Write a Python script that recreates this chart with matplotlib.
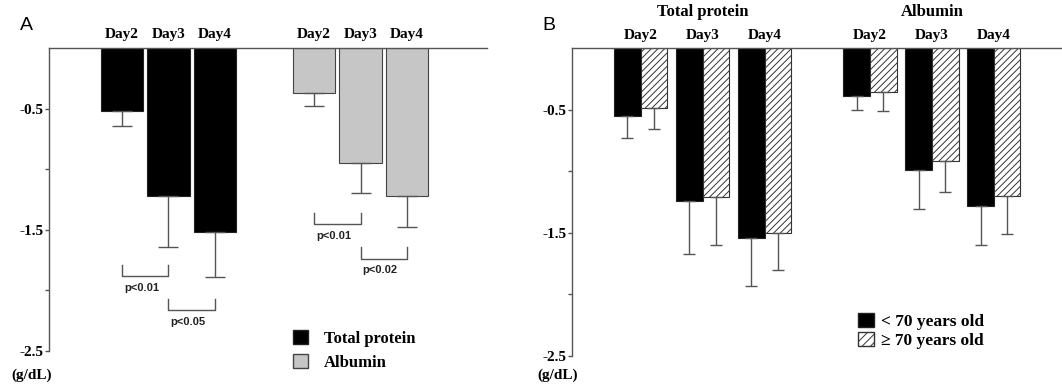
import matplotlib
matplotlib.use('Agg')
import matplotlib.pyplot as plt
import matplotlib.patches as mpatches
import numpy as np

plt.rcParams['hatch.linewidth'] = 0.7

days = ['Day2', 'Day3', 'Day4']

# Panel A: mean change (g/dL) and SD
tp_mean = [-0.52, -1.22, -1.52]
tp_sd = [0.12, 0.42, 0.37]
alb_mean = [-0.375, -0.95, -1.22]
alb_sd = [0.10, 0.25, 0.26]

# significance brackets (series, day from, day to, label)
brackets = [('tp', 0, 1, 'p<0.01'), ('tp', 1, 2, 'p<0.05'),
            ('alb', 0, 1, 'p<0.01'), ('alb', 1, 2, 'p<0.02')]
bracket_levels = [(-1.79, -1.88, -1.98), (-2.07, -2.16, -2.26),
                  (-1.36, -1.45, -1.55), (-1.64, -1.74, -1.83)]

# Panel B: by age group
groups = ['Total protein', 'Albumin']
young_mean = [[-0.55, -1.24, -1.54], [-0.39, -0.99, -1.28]]
young_sd = [[0.18, 0.43, 0.39], [0.11, 0.32, 0.32]]
old_mean = [[-0.49, -1.21, -1.50], [-0.36, -0.92, -1.20]]
old_sd = [[0.17, 0.39, 0.30], [0.15, 0.25, 0.31]]

serif = 'Liberation Serif'
sans = 'Liberation Sans'
axc = '#555555'
W, H = 1062, 387

fig = plt.figure(figsize=(10.62, 3.87), dpi=100)


def style_axis(ax):
    for s in ['right', 'bottom']:
        ax.spines[s].set_visible(False)
    for s in ['left', 'top']:
        ax.spines[s].set_color(axc)
        ax.spines[s].set_linewidth(1.0)
    ax.set_ylim(-2.5, 0)
    ax.set_xticks([])
    ax.set_yticks([-0.5, -1.0, -1.5, -2.0, -2.5])
    ax.set_yticklabels(['-0.5', '', '-1.5', '', '-2.5'],
                       fontfamily=serif, fontweight='bold', fontsize=11)
    ax.tick_params(axis='y', length=3, width=1, color=axc, pad=1)


# ---------- Panel A ----------
axA = fig.add_axes([49 / W, 1 - 351 / H, 438 / W, 303 / H])
style_axis(axA)
tp_x = np.arange(3)
alb_x = np.arange(3) + 4.13
w = 0.92
axA.set_xlim(-1.57, 7.85)

axA.bar(tp_x, tp_mean, w, color='black', edgecolor='#222222', linewidth=0.8)
axA.bar(alb_x, alb_mean, w, color='#c6c6c6', edgecolor='#444444', linewidth=0.8)
axA.errorbar(tp_x, tp_mean, yerr=[tp_sd, [0] * 3], fmt='none', ecolor=axc,
             elinewidth=1, capsize=7, capthick=1)
axA.errorbar(alb_x, alb_mean, yerr=[alb_sd, [0] * 3], fmt='none', ecolor=axc,
             elinewidth=1, capsize=7, capthick=1)

for xs in (tp_x, alb_x):
    for k, d in enumerate(days):
        axA.text(xs[k], 0.115, d, ha='center', va='center', fontfamily=serif,
                 fontweight='bold', fontsize=11, clip_on=False)

for (series, i, j, lab), (top, bot, ty) in zip(brackets, bracket_levels):
    xs = tp_x if series == 'tp' else alb_x
    axA.plot([xs[i], xs[i], xs[j], xs[j]], [top, bot, bot, top], color=axc, lw=1)
    axA.text((xs[i] + xs[j]) / 2 - 0.08, ty, lab, ha='center', va='center',
             fontfamily=sans, fontweight='bold', fontsize=8, color='#222222')

handlesA = [mpatches.Patch(facecolor='black', edgecolor='#222222', label='Total protein'),
            mpatches.Patch(facecolor='#c6c6c6', edgecolor='#444444', label='Albumin')]
fig.legend(handles=handlesA, loc='upper left', bbox_to_anchor=(293 / W, 1 - 330 / H),
           frameon=False, prop={'family': serif, 'weight': 'bold', 'size': 12},
           handlelength=0.9, handleheight=0.9, handletextpad=0.95, labelspacing=0.45,
           borderpad=0, borderaxespad=0)
fig.text(20 / W, 1 - 25 / H, 'A', fontfamily=sans, fontsize=14, ha='left', va='center')
fig.text(32 / W, 1 - 375 / H, '(g/dL)', ha='center', va='center',
         fontfamily=serif, fontweight='bold', fontsize=11)

# ---------- Panel B ----------
axB = fig.add_axes([572 / W, 1 - 356 / H, 490 / W, 308 / H])
style_axis(axB)
axB.set_xlim(-1.11, 6.80)
bw = 0.43
offsets = [0, 3.70]
for g, off in enumerate(offsets):
    cx = np.arange(3) + off
    axB.bar(cx - bw / 2, young_mean[g], bw, color='black', edgecolor='#222222', linewidth=0.8)
    axB.bar(cx + bw / 2, old_mean[g], bw, color='white', edgecolor='#333333', linewidth=0.8,
            hatch='/////')
    axB.errorbar(cx - bw / 2, young_mean[g], yerr=[young_sd[g], [0] * 3], fmt='none',
                 ecolor=axc, elinewidth=1, capsize=4, capthick=1)
    axB.errorbar(cx + bw / 2, old_mean[g], yerr=[old_sd[g], [0] * 3], fmt='none',
                 ecolor=axc, elinewidth=1, capsize=4, capthick=1)
    for k, d in enumerate(days):
        axB.text(cx[k], 0.10, d, ha='center', va='center', fontfamily=serif,
                 fontweight='bold', fontsize=11, clip_on=False)
    axB.text(cx[1], 0.29, groups[g], ha='center', va='center', fontfamily=serif,
             fontweight='bold', fontsize=12, clip_on=False)

handlesB = [mpatches.Patch(facecolor='black', edgecolor='#222222', label='< 70 years old'),
            mpatches.Patch(facecolor='white', edgecolor='#333333', hatch='////',
                           label='\u2265 70 years old')]
fig.legend(handles=handlesB, loc='upper left', bbox_to_anchor=(858 / W, 1 - 313 / H),
           frameon=False, prop={'family': serif, 'weight': 'bold', 'size': 12.5},
           handlelength=0.9, handleheight=0.9, handletextpad=0.4, labelspacing=0.1,
           borderpad=0, borderaxespad=0)
fig.text(542 / W, 1 - 25 / H, 'B', fontfamily=sans, fontsize=14, ha='left', va='center')
fig.text(558 / W, 1 - 375 / H, '(g/dL)', ha='center', va='center',
         fontfamily=serif, fontweight='bold', fontsize=11)

fig.savefig('out.png', dpi=100)
